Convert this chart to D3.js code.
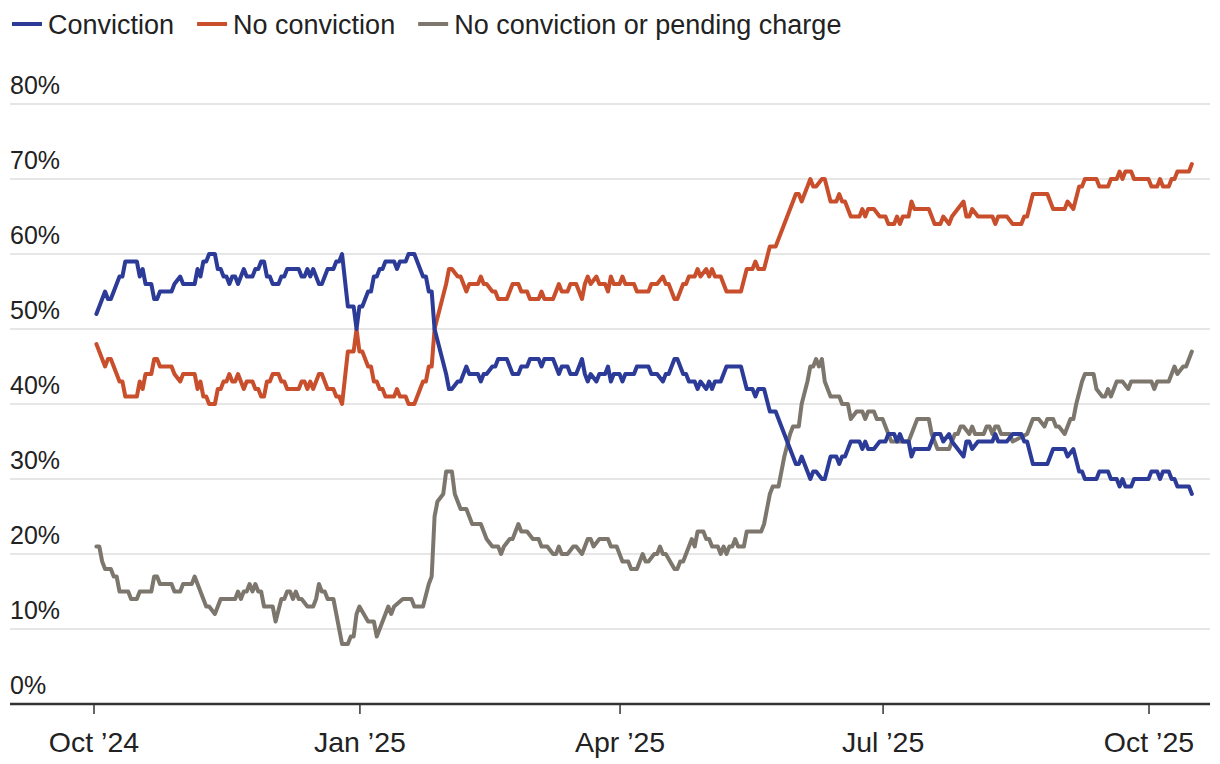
<!DOCTYPE html>
<html>
<head>
<meta charset="utf-8">
<script src="https://cdn.jsdelivr.net/npm/d3@7"></script>
<style>
  body { margin: 0; background: #fff; }
  svg { display: block; font-family: "Liberation Sans", Arial, sans-serif; }
</style>
</head>
<body>
<svg class="svg"></svg>
<script>
// days counted from 1 Oct 2024
const startDate = new Date(2024, 9, 1);

const convictionDays = [1,4,5,6,9,10,11,15,16,17,18,20,21,22,23,27,28,30,31,35,36,37,38,39,40,42,43,44,45,46,47,48,49,50,52,53,55,56,57,58,59,60,61,62,64,65,66,67,71,72,73,74,75,76,77,78,79,81,83,84,85,86,88,90,91,92,93,95,96,97,98,99,100,101,104,105,106,108,109,111,114,115,116,117,118,120,122,123,124,126,127,128,129,130,133,134,135,136,138,139,140,143,145,147,148,150,151,154,155,156,159,161,162,164,165,167,169,170,171,172,174,175,177,178,179,180,182,183,184,187,188,192,193,195,197,198,199,201,202,204,205,206,208,209,210,212,213,214,215,217,219,224,226,228,229,230,232,234,236,243,244,245,248,249,250,252,253,255,257,258,259,260,262,265,266,267,268,270,272,274,275,277,278,279,280,282,283,284,289,291,293,294,296,297,299,301,302,303,304,306,311,312,313,316,318,321,322,323,325,330,332,336,337,339,341,342,343,347,348,351,352,354,355,356,357,359,360,365,366,368,369,370,372,373,374,375,379,380];

const conviction = [52,55,54,54,57,57,59,59,57,58, 56,56,54,54,55,55,56,57,56,56, 58,57,59,59,60,60,58,58,57,57, 56,57,57,56,58,57,57,58,58,59,
  59,57,57,56,56,57,57,58,58,57, 57,58,57,58,57,56,56,58,58,59, 59,60,53,53,50,53,53,55,55,57, 57,58,58,59,59,58,59,59,60,60,
  57,57,55,55,50,47,44,42,42,43, 43,44,45,44,44,43,44,44,45,45, 46,46,44,44,45,45,46,46,45,46, 46,44,45,45,44,44,46,44,43,44,
  43,44,44,45,43,44,44,43,44,44, 45,45,44,44,43,44,44,46,46,44, 44,43,43,42,43,42,43,42,43,43, 45,45,42,42,41,42,42,39,39,32,
  32,33,30,31,31,30,30,33,33,32, 33,33,35,35,34,35,34,34,35,35, 36,36,35,36,35,35,33,34,34,36, 36,35,36,35,34,33,35,35,34,35,
  35,36,35,35,36,36,35,35,32,32, 34,34,33,34,31,31,30,30,31,31, 30,30,29,30,29,29,30,30,31,31, 30,31,31,30,30,29,29,28];

const noConviction = [48,45,46,46,43,43,41,41,43,42, 44,44,46,46,45,45,44,43,44,44, 42,43,41,41,40,40,42,42,43,43, 44,43,43,44,42,43,43,42,42,41,
  41,43,43,44,44,43,43,42,42,43, 43,42,43,42,43,44,44,42,42,41, 41,40,47,47,50,47,47,45,45,43, 43,42,42,41,41,42,41,41,40,40,
  43,43,45,45,50,53,56,58,58,57, 57,56,55,56,56,57,56,56,55,55, 54,54,56,56,55,55,54,54,55,54, 54,56,55,55,56,56,54,56,57,56,
  57,56,56,55,57,56,56,57,56,56, 55,55,56,56,57,56,56,54,54,56, 56,57,57,58,57,58,57,58,57,57, 55,55,58,58,59,58,58,61,61,68,
  68,67,70,69,69,70,70,67,67,68, 67,67,65,65,66,65,66,66,65,65, 64,64,65,64,65,65,67,66,66,64, 64,65,64,65,66,67,65,65,66,65,
  65,64,65,65,64,64,65,65,68,68, 66,66,67,66,69,69,70,70,69,69, 70,70,71,70,71,71,70,70,69,69, 70,69,69,70,70,71,71,72];

const pendingDays = [1,2,3,4,6,7,8,9,12,13, 15,16,20,21,22,23,27,28,30,31, 34,35,37,39,40,42,44,49,50,51, 52,53,54,55,56,57,58,59,62,63,
  65,66,67,68,69,70,71,72,74,76, 77,78,79,80,81,83,86,88,89,90, 91,92,95,97,98,100,102,103,104,107, 110,111,114,116,117,118,119,121,122,124,
  125,127,129,131,134,136,138,140,141,142, 144,145,147,148,150,152,154,155,157,159, 160,161,162,164,166,167,169,171,172,173,
  175,178,179,181,183,185,186,188,190,191, 192,194,195,196,197,198,201,202,203,204, 206,207,208,209,211,212,213,214,216,217,
  218,219,220,221,222,223,225,226,231,232, 234,235,237,238,239,241,242,244,245,247, 248,249,250,251,252,253,255,258,259,261,
  262,264,266,267,268,270,271,273,274,275, 276,282,283,285,289,290,292,296,298,299, 300,301,303,304,305,308,309,310,311,312,
  313,314,317,318,323,325,327,329,330,332, 333,334,336,338,339,340,342,343,346,347, 349,350,351,352,354,356,358,359,366,367,
  368,372,374,375,377,378,380];

const pending = [21,21,19,18,18,17,17,15,15,14, 14,15,15,17,17,16,16,15,15,16, 16,17,15,13,13,12,14,14,15,14, 15,15,16,15,16,15,15,13,13,11,
  14,14,15,15,14,15,14,14,13,13, 14,16,15,15,14,14,8,8,9,9, 12,13,11,11,9,11,13,12,13,14, 14,13,13,16,17,25,27,28,31,31,
  28,26,26,24,24,22,21,21,20,21, 22,22,24,23,23,22,22,21,21,20, 20,21,20,20,21,21,20,22,22,21,
  22,22,21,21,19,19,18,18,20,19, 19,20,20,21,20,20,18,18,19,19, 21,22,21,23,23,22,22,21,21,20,
  21,20,21,21,22,21,21,23,23,24, 28,29,29,31,33,36,37,37,40,43, 45,45,46,45,46,43,41,41,40,40,
  38,39,39,38,39,39,38,38,37,36, 35,35,36,38,38,36,34,34,36,36, 37,37,36,37,36,36,37,37,36,37,
  37,36,36,35,36,38,38,37,38,38, 37,37,36,38,38,40,43,44,44,42, 41,41,42,41,43,43,42,43,43,42,
  43,43,45,44,45,45,47];

const seriesNames = ["Conviction", "No conviction", "No conviction or pending charge"];
const seriesColors = ["#2b3b97", "#c94f2c", "#7c766d"];
const yTicks = [0, 10, 20, 30, 40, 50, 60, 70, 80];

const width = 1220, height = 764;
const svg = d3.select(".svg").attr("width", width).attr("height", height);

const dayDate = (d) => d3.timeDay.offset(startDate, d);

const x = d3.scaleTime()
  .domain([new Date(2024, 9, 1), new Date(2025, 9, 1)])
  .range([93.5, 1148.5]);
const y = d3.scaleLinear().domain([0, 80]).range([704, 104]);

const left = 10, right = 1210;

// gridlines + labels
svg.append("g")
  .selectAll("line")
  .data(yTicks.filter(d => d > 0))
  .join("line")
  .attr("x1", left).attr("x2", right)
  .attr("y1", d => y(d)).attr("y2", d => y(d))
  .attr("stroke", "#e6e6e6")
  .attr("stroke-width", 2);

svg.append("g")
  .selectAll("text")
  .data(yTicks)
  .join("text")
  .attr("x", left)
  .attr("y", d => y(d) - 10)
  .attr("fill", "#222")
  .style("font-size", "25px")
  .text(d => d + "%");

// x axis
const xAxis = d3.axisBottom(x)
  .tickValues(d3.timeMonth.range(new Date(2024, 9, 1), new Date(2025, 9, 2), 3))
  .tickFormat(d3.timeFormat("%b ’%y"))
  .tickSize(10)
  .tickSizeOuter(0)
  .tickPadding(18);

const gx = svg.append("g").attr("transform", `translate(0,${y(0)})`).call(xAxis);
gx.select(".domain").remove();
gx.selectAll(".tick line").attr("stroke", "#333").attr("stroke-width", 1.5);
gx.selectAll(".tick text")
  .attr("fill", "#222")
  .style("font-size", "28.5px")
  .style("font-family", "'Liberation Sans', Arial, sans-serif");

svg.append("line")
  .attr("x1", left).attr("x2", right)
  .attr("y1", y(0)).attr("y2", y(0))
  .attr("stroke", "#333")
  .attr("stroke-width", 2.5);

// lines
const series = [
  { name: seriesNames[2], color: seriesColors[2], pts: pendingDays.map((d, i) => [dayDate(d), pending[i]]) },
  { name: seriesNames[1], color: seriesColors[1], pts: convictionDays.map((d, i) => [dayDate(d), noConviction[i]]) },
  { name: seriesNames[0], color: seriesColors[0], pts: convictionDays.map((d, i) => [dayDate(d), conviction[i]]) }
];

const line = d3.line().x(d => x(d[0])).y(d => y(d[1]));

svg.append("g")
  .selectAll("path")
  .data(series)
  .join("path")
  .attr("d", d => line(d.pts))
  .attr("fill", "none")
  .attr("stroke", d => d.color)
  .attr("stroke-width", 4)
  .attr("stroke-linejoin", "round")
  .attr("stroke-linecap", "round");

// legend
const legend = svg.append("g").attr("transform", "translate(12,24)");
let lx = 0;
seriesNames.forEach((name, i) => {
  legend.append("line")
    .attr("x1", lx).attr("x2", lx + 30)
    .attr("y1", 0).attr("y2", 0)
    .attr("stroke", seriesColors[i])
    .attr("stroke-width", 4);
  const t = legend.append("text")
    .attr("x", lx + 36)
    .attr("y", 9.5)
    .attr("fill", "#222")
    .style("font-size", "27px")
    .text(name);
  lx += 36 + t.node().getComputedTextLength() + 23;
});
</script>
</body>
</html>
